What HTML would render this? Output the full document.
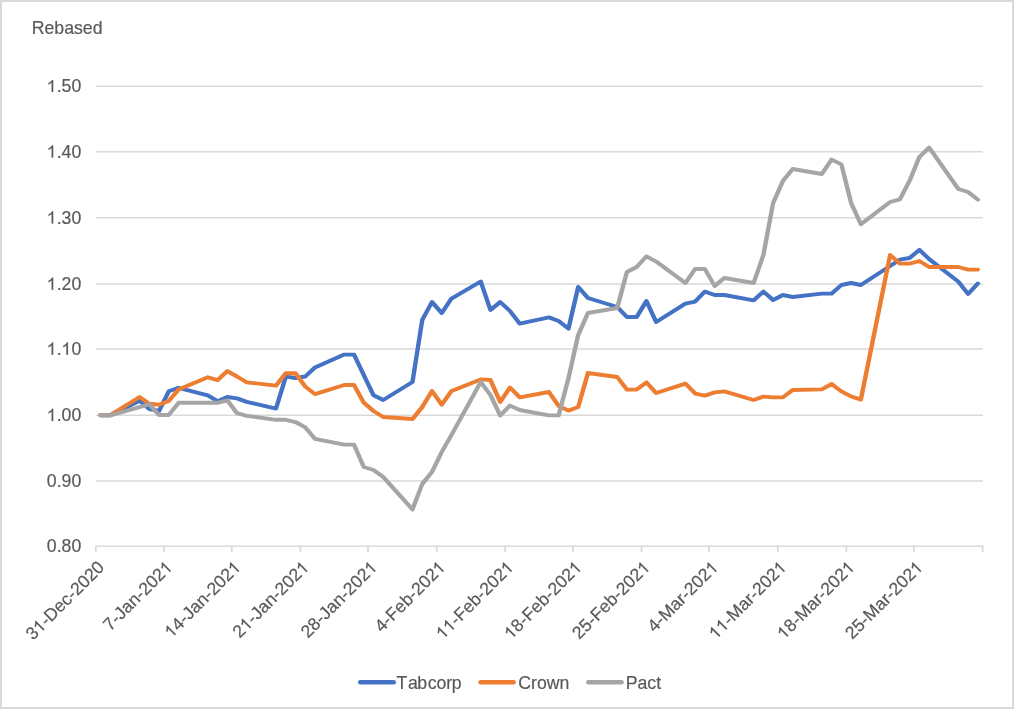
<!DOCTYPE html>
<html lang="en">
<head>
<meta charset="utf-8">
<title>Rebased share price chart</title>
<style>
html,body{margin:0;padding:0;background:#ffffff;}
body{width:1014px;height:710px;overflow:hidden;font-family:"Liberation Sans",sans-serif;}
svg{display:block;will-change:transform;}
svg text{font-kerning:none;stroke:#595959;stroke-width:0.18px;}
svg path.g1{stroke:#595959;stroke-width:21;}
</style>
</head>
<body>
<svg width="1014" height="710" viewBox="0 0 1014 710" font-family="Liberation Sans, sans-serif" font-size="17.7" fill="#595959">
<rect x="0" y="0" width="1014" height="710" fill="#ffffff"/>
<rect x="1" y="1" width="1012" height="707" fill="none" stroke="#d9d9d9" stroke-width="2"/>
<line x1="95.90" x2="982.80" y1="86.30" y2="86.30" stroke="#d9d9d9" stroke-width="1.4"/>
<line x1="95.90" x2="982.80" y1="151.70" y2="151.70" stroke="#d9d9d9" stroke-width="1.4"/>
<line x1="95.90" x2="982.80" y1="217.70" y2="217.70" stroke="#d9d9d9" stroke-width="1.4"/>
<line x1="95.90" x2="982.80" y1="284.00" y2="284.00" stroke="#d9d9d9" stroke-width="1.4"/>
<line x1="95.90" x2="982.80" y1="349.00" y2="349.00" stroke="#d9d9d9" stroke-width="1.4"/>
<line x1="95.90" x2="982.80" y1="415.20" y2="415.20" stroke="#d9d9d9" stroke-width="1.4"/>
<line x1="95.90" x2="982.80" y1="481.00" y2="481.00" stroke="#d9d9d9" stroke-width="1.4"/>
<line x1="95.05" x2="983.50" y1="546.20" y2="546.20" stroke="#d9d9d9" stroke-width="1.4"/>
<line x1="95.90" x2="95.90" y1="546.20" y2="552.1" stroke="#d9d9d9" stroke-width="1.7"/>
<line x1="164.05" x2="164.05" y1="546.20" y2="552.1" stroke="#d9d9d9" stroke-width="1.7"/>
<line x1="231.90" x2="231.90" y1="546.20" y2="552.1" stroke="#d9d9d9" stroke-width="1.7"/>
<line x1="300.45" x2="300.45" y1="546.20" y2="552.1" stroke="#d9d9d9" stroke-width="1.7"/>
<line x1="368.00" x2="368.00" y1="546.20" y2="552.1" stroke="#d9d9d9" stroke-width="1.7"/>
<line x1="436.75" x2="436.75" y1="546.20" y2="552.1" stroke="#d9d9d9" stroke-width="1.7"/>
<line x1="505.20" x2="505.20" y1="546.20" y2="552.1" stroke="#d9d9d9" stroke-width="1.7"/>
<line x1="572.95" x2="572.95" y1="546.20" y2="552.1" stroke="#d9d9d9" stroke-width="1.7"/>
<line x1="641.50" x2="641.50" y1="546.20" y2="552.1" stroke="#d9d9d9" stroke-width="1.7"/>
<line x1="709.00" x2="709.00" y1="546.20" y2="552.1" stroke="#d9d9d9" stroke-width="1.7"/>
<line x1="777.80" x2="777.80" y1="546.20" y2="552.1" stroke="#d9d9d9" stroke-width="1.7"/>
<line x1="846.30" x2="846.30" y1="546.20" y2="552.1" stroke="#d9d9d9" stroke-width="1.7"/>
<line x1="914.05" x2="914.05" y1="546.20" y2="552.1" stroke="#d9d9d9" stroke-width="1.7"/>
<line x1="982.64" x2="982.64" y1="546.20" y2="552.1" stroke="#d9d9d9" stroke-width="1.7"/>
<text x="56.69 61.61 71.46" y="92.10">.50</text><path class="g1" transform="translate(46.85,92.10) scale(0.008643,-0.008643)" d="M733 0H553V1098Q488 1036 382 974Q277 912 193 881V1055Q344 1126 457 1227Q570 1328 617 1409H733Z"/>
<text x="56.69 61.61 71.46" y="157.50">.40</text><path class="g1" transform="translate(46.85,157.50) scale(0.008643,-0.008643)" d="M733 0H553V1098Q488 1036 382 974Q277 912 193 881V1055Q344 1126 457 1227Q570 1328 617 1409H733Z"/>
<text x="56.69 61.61 71.46" y="223.50">.30</text><path class="g1" transform="translate(46.85,223.50) scale(0.008643,-0.008643)" d="M733 0H553V1098Q488 1036 382 974Q277 912 193 881V1055Q344 1126 457 1227Q570 1328 617 1409H733Z"/>
<text x="56.69 61.61 71.46" y="289.80">.20</text><path class="g1" transform="translate(46.85,289.80) scale(0.008643,-0.008643)" d="M733 0H553V1098Q488 1036 382 974Q277 912 193 881V1055Q344 1126 457 1227Q570 1328 617 1409H733Z"/>
<text x="56.69 71.46" y="354.80">.0</text><path class="g1" transform="translate(46.85,354.80) scale(0.008643,-0.008643)" d="M733 0H553V1098Q488 1036 382 974Q277 912 193 881V1055Q344 1126 457 1227Q570 1328 617 1409H733Z"/><path class="g1" transform="translate(61.61,354.80) scale(0.008643,-0.008643)" d="M733 0H553V1098Q488 1036 382 974Q277 912 193 881V1055Q344 1126 457 1227Q570 1328 617 1409H733Z"/>
<text x="56.69 61.61 71.46" y="421.00">.00</text><path class="g1" transform="translate(46.85,421.00) scale(0.008643,-0.008643)" d="M733 0H553V1098Q488 1036 382 974Q277 912 193 881V1055Q344 1126 457 1227Q570 1328 617 1409H733Z"/>
<text x="46.85 56.69 61.61 71.46" y="486.80">0.90</text>
<text x="46.85 56.69 61.61 71.46" y="552.00">0.80</text>
<text x="31.70 44.48 54.33 64.17 74.01 82.86 92.71" y="33.80">Rebased</text>
<g transform="translate(105.30,568.40) rotate(-45)"><text x="-102.33 -82.64 -76.75 -63.96 -54.12 -45.27 -39.38 -29.53 -19.69 -9.84" y="0.00">3-Dec-2020</text><path class="g1" transform="translate(-92.48,0.00) scale(0.008643,-0.008643)" d="M733 0H553V1098Q488 1036 382 974Q277 912 193 881V1055Q344 1126 457 1227Q570 1328 617 1409H733Z"/></g>
<g transform="translate(173.51,568.40) rotate(-45)"><text x="-89.55 -79.70 -73.81 -64.96 -55.11 -45.27 -39.38 -29.53 -19.69" y="0.00">7-Jan-202</text><path class="g1" transform="translate(-9.84,0.00) scale(0.008643,-0.008643)" d="M733 0H553V1098Q488 1036 382 974Q277 912 193 881V1055Q344 1126 457 1227Q570 1328 617 1409H733Z"/></g>
<g transform="translate(241.72,568.40) rotate(-45)"><text x="-89.55 -79.70 -73.81 -64.96 -55.11 -45.27 -39.38 -29.53 -19.69" y="0.00">4-Jan-202</text><path class="g1" transform="translate(-99.39,0.00) scale(0.008643,-0.008643)" d="M733 0H553V1098Q488 1036 382 974Q277 912 193 881V1055Q344 1126 457 1227Q570 1328 617 1409H733Z"/><path class="g1" transform="translate(-9.84,0.00) scale(0.008643,-0.008643)" d="M733 0H553V1098Q488 1036 382 974Q277 912 193 881V1055Q344 1126 457 1227Q570 1328 617 1409H733Z"/></g>
<g transform="translate(309.93,568.40) rotate(-45)"><text x="-99.39 -79.70 -73.81 -64.96 -55.11 -45.27 -39.38 -29.53 -19.69" y="0.00">2-Jan-202</text><path class="g1" transform="translate(-89.55,0.00) scale(0.008643,-0.008643)" d="M733 0H553V1098Q488 1036 382 974Q277 912 193 881V1055Q344 1126 457 1227Q570 1328 617 1409H733Z"/><path class="g1" transform="translate(-9.84,0.00) scale(0.008643,-0.008643)" d="M733 0H553V1098Q488 1036 382 974Q277 912 193 881V1055Q344 1126 457 1227Q570 1328 617 1409H733Z"/></g>
<g transform="translate(378.15,568.40) rotate(-45)"><text x="-99.39 -89.55 -79.70 -73.81 -64.96 -55.11 -45.27 -39.38 -29.53 -19.69" y="0.00">28-Jan-202</text><path class="g1" transform="translate(-9.84,0.00) scale(0.008643,-0.008643)" d="M733 0H553V1098Q488 1036 382 974Q277 912 193 881V1055Q344 1126 457 1227Q570 1328 617 1409H733Z"/></g>
<g transform="translate(446.36,568.40) rotate(-45)"><text x="-91.51 -81.66 -75.77 -64.96 -55.11 -45.27 -39.38 -29.53 -19.69" y="0.00">4-Feb-202</text><path class="g1" transform="translate(-9.84,0.00) scale(0.008643,-0.008643)" d="M733 0H553V1098Q488 1036 382 974Q277 912 193 881V1055Q344 1126 457 1227Q570 1328 617 1409H733Z"/></g>
<g transform="translate(514.57,568.40) rotate(-45)"><text x="-81.66 -75.77 -64.96 -55.11 -45.27 -39.38 -29.53 -19.69" y="0.00">-Feb-202</text><path class="g1" transform="translate(-101.35,0.00) scale(0.008643,-0.008643)" d="M733 0H553V1098Q488 1036 382 974Q277 912 193 881V1055Q344 1126 457 1227Q570 1328 617 1409H733Z"/><path class="g1" transform="translate(-91.51,0.00) scale(0.008643,-0.008643)" d="M733 0H553V1098Q488 1036 382 974Q277 912 193 881V1055Q344 1126 457 1227Q570 1328 617 1409H733Z"/><path class="g1" transform="translate(-9.84,0.00) scale(0.008643,-0.008643)" d="M733 0H553V1098Q488 1036 382 974Q277 912 193 881V1055Q344 1126 457 1227Q570 1328 617 1409H733Z"/></g>
<g transform="translate(582.78,568.40) rotate(-45)"><text x="-91.51 -81.66 -75.77 -64.96 -55.11 -45.27 -39.38 -29.53 -19.69" y="0.00">8-Feb-202</text><path class="g1" transform="translate(-101.35,0.00) scale(0.008643,-0.008643)" d="M733 0H553V1098Q488 1036 382 974Q277 912 193 881V1055Q344 1126 457 1227Q570 1328 617 1409H733Z"/><path class="g1" transform="translate(-9.84,0.00) scale(0.008643,-0.008643)" d="M733 0H553V1098Q488 1036 382 974Q277 912 193 881V1055Q344 1126 457 1227Q570 1328 617 1409H733Z"/></g>
<g transform="translate(650.99,568.40) rotate(-45)"><text x="-101.35 -91.51 -81.66 -75.77 -64.96 -55.11 -45.27 -39.38 -29.53 -19.69" y="0.00">25-Feb-202</text><path class="g1" transform="translate(-9.84,0.00) scale(0.008643,-0.008643)" d="M733 0H553V1098Q488 1036 382 974Q277 912 193 881V1055Q344 1126 457 1227Q570 1328 617 1409H733Z"/></g>
<g transform="translate(719.20,568.40) rotate(-45)"><text x="-91.49 -81.65 -75.75 -61.01 -51.16 -45.27 -39.38 -29.53 -19.69" y="0.00">4-Mar-202</text><path class="g1" transform="translate(-9.84,0.00) scale(0.008643,-0.008643)" d="M733 0H553V1098Q488 1036 382 974Q277 912 193 881V1055Q344 1126 457 1227Q570 1328 617 1409H733Z"/></g>
<g transform="translate(787.42,568.40) rotate(-45)"><text x="-81.65 -75.75 -61.01 -51.16 -45.27 -39.38 -29.53 -19.69" y="0.00">-Mar-202</text><path class="g1" transform="translate(-101.33,0.00) scale(0.008643,-0.008643)" d="M733 0H553V1098Q488 1036 382 974Q277 912 193 881V1055Q344 1126 457 1227Q570 1328 617 1409H733Z"/><path class="g1" transform="translate(-91.49,0.00) scale(0.008643,-0.008643)" d="M733 0H553V1098Q488 1036 382 974Q277 912 193 881V1055Q344 1126 457 1227Q570 1328 617 1409H733Z"/><path class="g1" transform="translate(-9.84,0.00) scale(0.008643,-0.008643)" d="M733 0H553V1098Q488 1036 382 974Q277 912 193 881V1055Q344 1126 457 1227Q570 1328 617 1409H733Z"/></g>
<g transform="translate(855.63,568.40) rotate(-45)"><text x="-91.49 -81.65 -75.75 -61.01 -51.16 -45.27 -39.38 -29.53 -19.69" y="0.00">8-Mar-202</text><path class="g1" transform="translate(-101.33,0.00) scale(0.008643,-0.008643)" d="M733 0H553V1098Q488 1036 382 974Q277 912 193 881V1055Q344 1126 457 1227Q570 1328 617 1409H733Z"/><path class="g1" transform="translate(-9.84,0.00) scale(0.008643,-0.008643)" d="M733 0H553V1098Q488 1036 382 974Q277 912 193 881V1055Q344 1126 457 1227Q570 1328 617 1409H733Z"/></g>
<g transform="translate(923.84,568.40) rotate(-45)"><text x="-101.33 -91.49 -81.65 -75.75 -61.01 -51.16 -45.27 -39.38 -29.53 -19.69" y="0.00">25-Mar-202</text><path class="g1" transform="translate(-9.84,0.00) scale(0.008643,-0.008643)" d="M733 0H553V1098Q488 1036 382 974Q277 912 193 881V1055Q344 1126 457 1227Q570 1328 617 1409H733Z"/></g>
<path transform="scale(1,0.88)" d="M100.57,471.82 L110.32,471.82 L139.56,455.34 L149.31,464.77 L159.06,466.93 L168.80,444.55 L178.55,440.68 L207.79,449.20 L217.54,455.91 L227.29,451.14 L237.04,452.73 L246.78,456.70 L276.02,464.32 L285.77,428.07 L295.52,429.55 L305.27,427.84 L315.01,417.50 L344.25,402.95 L354.00,402.95 L363.75,426.14 L373.50,449.20 L383.24,454.55 L412.49,434.09 L422.23,363.64 L431.98,343.18 L441.73,355.68 L451.47,339.32 L480.72,319.89 L490.46,352.27 L500.21,343.18 L509.96,353.41 L519.71,367.73 L548.95,360.68 L558.69,364.77 L568.44,373.41 L578.19,326.14 L587.94,338.64 L617.18,348.86 L626.93,360.23 L636.67,360.23 L646.42,342.05 L656.17,365.91 L685.41,345.00 L695.16,342.73 L704.90,331.36 L714.65,335.23 L724.40,335.23 L753.64,341.36 L763.39,331.36 L773.13,340.91 L782.88,335.23 L792.63,337.50 L821.87,333.64 L831.62,333.64 L841.36,323.86 L851.11,321.59 L860.86,323.86 L890.10,302.27 L899.85,295.00 L909.60,293.18 L919.34,283.86 L929.09,294.32 L958.33,320.00 L968.08,334.09 L977.83,322.27" fill="none" stroke="#4472c4" stroke-width="4.4" stroke-linejoin="round" stroke-linecap="round"/>
<path transform="scale(1,0.88)" d="M100.57,471.82 L110.32,471.82 L139.56,451.14 L149.31,458.75 L159.06,459.89 L168.80,455.57 L178.55,442.61 L207.79,428.75 L217.54,431.93 L227.29,421.70 L237.04,427.84 L246.78,434.43 L276.02,438.30 L285.77,424.09 L295.52,424.09 L305.27,439.32 L315.01,447.84 L344.25,437.50 L354.00,437.50 L363.75,457.50 L373.50,467.05 L383.24,473.86 L412.49,476.14 L422.23,462.50 L431.98,444.32 L441.73,459.77 L451.47,444.32 L480.72,431.14 L490.46,431.82 L500.21,456.82 L509.96,440.45 L519.71,451.59 L548.95,445.45 L558.69,461.36 L568.44,466.59 L578.19,462.50 L587.94,423.86 L617.18,428.41 L626.93,442.73 L636.67,442.73 L646.42,434.55 L656.17,446.59 L685.41,435.91 L695.16,447.27 L704.90,449.55 L714.65,445.91 L724.40,444.77 L753.64,454.55 L763.39,450.68 L773.13,451.59 L782.88,451.59 L792.63,443.18 L821.87,442.50 L831.62,436.36 L841.36,444.77 L851.11,450.45 L860.86,454.09 L890.10,289.77 L899.85,299.55 L909.60,299.55 L919.34,296.59 L929.09,303.41 L958.33,303.41 L968.08,306.36 L977.83,306.36" fill="none" stroke="#ed7d31" stroke-width="4.4" stroke-linejoin="round" stroke-linecap="round"/>
<path transform="scale(1,0.88)" d="M100.57,471.93 L110.32,471.93 L139.56,462.73 L149.31,459.43 L159.06,471.59 L168.80,471.59 L178.55,457.73 L207.79,457.73 L217.54,457.73 L227.29,454.89 L237.04,469.43 L246.78,472.50 L276.02,477.05 L285.77,477.05 L295.52,479.55 L305.27,485.57 L315.01,498.64 L344.25,505.23 L354.00,505.23 L363.75,530.68 L373.50,534.09 L383.24,542.05 L412.49,578.86 L422.23,550.00 L431.98,536.36 L441.73,513.64 L451.47,494.32 L480.72,434.09 L490.46,448.86 L500.21,472.27 L509.96,460.91 L519.71,465.91 L548.95,472.05 L558.69,472.05 L568.44,429.89 L578.19,380.68 L587.94,355.68 L617.18,350.00 L626.93,309.09 L636.67,303.41 L646.42,291.36 L656.17,297.27 L685.41,321.59 L695.16,305.68 L704.90,305.68 L714.65,325.00 L724.40,315.91 L753.64,321.59 L763.39,289.77 L773.13,230.68 L782.88,205.68 L792.63,192.05 L821.87,197.73 L831.62,181.36 L841.36,186.82 L851.11,230.68 L860.86,254.77 L890.10,229.55 L899.85,226.59 L909.60,205.45 L919.34,178.41 L929.09,167.73 L958.33,214.77 L968.08,218.18 L977.83,226.82" fill="none" stroke="#a5a5a5" stroke-width="4.4" stroke-linejoin="round" stroke-linecap="round"/>
<line x1="360.2" x2="393.8" y1="682.2" y2="682.2" stroke="#4472c4" stroke-width="4.4" stroke-linecap="round"/>
<text x="396.60 408.06 417.36 427.80 436.50 446.29 451.69" y="688.60">Tabcorp</text>
<line x1="480.6" x2="513.6" y1="682.2" y2="682.2" stroke="#ed7d31" stroke-width="4.4" stroke-linecap="round"/>
<text x="518.20 530.98 536.88 546.72 559.50" y="688.60">Crown</text>
<line x1="588.3" x2="621.6" y1="682.2" y2="682.2" stroke="#a5a5a5" stroke-width="4.4" stroke-linecap="round"/>
<text x="625.70 637.51 647.35 656.20" y="688.60">Pact</text>
</svg>
</body>
</html>
